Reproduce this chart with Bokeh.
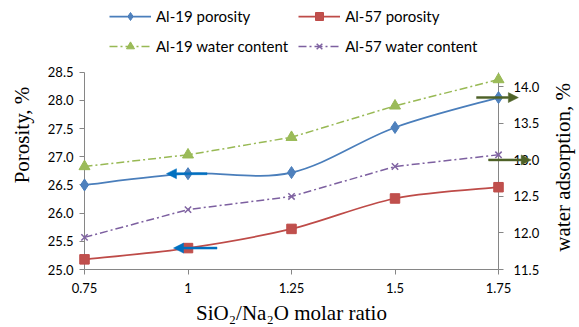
from bokeh.plotting import figure
from bokeh.models import (Range1d, LinearAxis, FixedTicker, NumeralTickFormatter,
                          Legend, LegendItem)
from bokeh.core.properties import value
from bokeh.embed import file_html
from bokeh.resources import INLINE
import math

# ---- data ----
ratio = [0.75, 1.0, 1.25, 1.5, 1.75]
ratio_labels = ["0.75", "1", "1.25", "1.5", "1.75"]
al19_porosity = [26.50, 26.70, 26.72, 27.52, 28.05]
al57_porosity = [25.18, 25.38, 25.72, 26.26, 26.46]
al19_water = [12.91, 13.07, 13.31, 13.74, 14.10]
al57_water = [11.94, 12.32, 12.50, 12.91, 13.07]
left_ticks = [25.0, 25.5, 26.0, 26.5, 27.0, 27.5, 28.0, 28.5]
right_ticks = [11.5, 12.0, 12.5, 13.0, 13.5, 14.0]

# annotation arrows
arrow_x_start = [1.046, 1.070, 1.697, 1.726]
arrow_x_end = [0.948, 0.965, 1.798, 1.829]
arrow_y = [26.70, 25.38, 28.05, 13.00]
arrow_axis = ["default", "default", "default", "right"]
arrow_color = ["#0070c0", "#0070c0", "#4f6228", "#4f6228"]

LABEL_FONT = "Liberation Serif"
TICK_FONT = "Lato"

# axis extents; the frame reaches up to the top of the page so the legend is not clipped
LEFT_LO, LEFT_HI = 25.0, 28.5
RIGHT_LO, RIGHT_HI = 11.5, 14.2
X_LO, X_HI = 0.75, 1.75
PLOT_PX, TOP_PX, WIDTH_PX = 198.0, 72.0, 414.0
left_top = LEFT_HI + TOP_PX * (LEFT_HI - LEFT_LO) / PLOT_PX
right_top = RIGHT_HI + TOP_PX * (RIGHT_HI - RIGHT_LO) / PLOT_PX

p = figure(width=579, height=327, output_backend="svg", toolbar_location=None,
           x_range=Range1d(X_LO, X_HI), y_range=Range1d(LEFT_LO, left_top),
           min_border_left=84, min_border_right=81, min_border_top=0,
           min_border_bottom=57, x_axis_location=None, y_axis_location=None)
p.extra_y_ranges = {"right": Range1d(RIGHT_LO, right_top)}
p.grid.visible = False
p.outline_line_color = None
p.background_fill_color = "white"
p.border_fill_color = "white"


def style_axis(ax):
    ax.axis_line_color = "#868686"
    ax.axis_line_width = 1
    ax.major_tick_line_color = "#868686"
    ax.major_tick_out = 5
    ax.major_tick_in = 0
    ax.minor_tick_line_color = None
    ax.major_label_text_font = TICK_FONT
    ax.major_label_text_font_size = "13px"
    ax.major_label_text_color = "black"
    ax.axis_label_text_font = LABEL_FONT
    ax.axis_label_text_font_size = "21px"
    ax.axis_label_text_font_style = "normal"
    ax.axis_label_text_color = "black"


xaxis = LinearAxis(axis_label="SiO\u2082/Na\u2082O molar ratio",
                   ticker=FixedTicker(ticks=ratio))
xaxis.major_label_overrides = {t: l for t, l in zip(ratio, ratio_labels)}
style_axis(xaxis)
xaxis.major_label_standoff = 8
xaxis.axis_label_standoff = 5
p.add_layout(xaxis, "below")

laxis = LinearAxis(axis_label="Porosity, %", ticker=FixedTicker(ticks=left_ticks),
                   formatter=NumeralTickFormatter(format="0.0"),
                   bounds=(LEFT_LO, LEFT_HI))
style_axis(laxis)
laxis.major_label_standoff = 6
laxis.axis_label_standoff = 11
p.add_layout(laxis, "left")

raxis = LinearAxis(y_range_name="right",
                   ticker=FixedTicker(ticks=right_ticks),
                   formatter=NumeralTickFormatter(format="0.0"),
                   bounds=(RIGHT_LO, RIGHT_HI))
style_axis(raxis)
raxis.major_label_standoff = 10
p.add_layout(raxis, "right")

# right-axis title, reading bottom to top like the reference
p.text(x=[1.907], y=[12.898], text=["water adsorption, %"], angle=math.pi / 2,
       text_align="center", text_baseline="middle", text_font=value(LABEL_FONT),
       text_font_size="21px", text_color="black", y_range_name="right", level="overlay")


def smooth_bezier(xs, ys, color, width, y_range_name="default"):
    n = len(xs)
    x0, y0, x1, y1, cx0, cy0, cx1, cy1 = [], [], [], [], [], [], [], []
    for i in range(n - 1):
        xp, yp = (xs[i - 1], ys[i - 1]) if i > 0 else (xs[i], ys[i])
        xn, yn = (xs[i + 2], ys[i + 2]) if i + 2 < n else (xs[i + 1], ys[i + 1])
        x0.append(xs[i]); y0.append(ys[i])
        x1.append(xs[i + 1]); y1.append(ys[i + 1])
        cx0.append(xs[i] + (xs[i + 1] - xp) / 6.0)
        cy0.append(ys[i] + (ys[i + 1] - yp) / 6.0)
        cx1.append(xs[i + 1] - (xn - xs[i]) / 6.0)
        cy1.append(ys[i + 1] - (yn - ys[i]) / 6.0)
    return p.bezier(x0=x0, y0=y0, x1=x1, y1=y1, cx0=cx0, cy0=cy0, cx1=cx1, cy1=cy1,
                    line_color=color, line_width=width, y_range_name=y_range_name)


# lines
l19 = smooth_bezier(ratio, al19_porosity, "#4a7ebb", 1.75)
l57 = smooth_bezier(ratio, al57_porosity, "#be4b48", 1.75)
w19 = p.line(ratio, al19_water, line_color="#98b954", line_width=1.5,
             line_dash="8 3 2 3", y_range_name="right")
w57 = p.line(ratio, al57_water, line_color="#7d60a0", line_width=1.5,
             line_dash="8 3 2 3", y_range_name="right")

# markers
m19 = p.scatter(ratio, al19_porosity, marker="diamond", size=12,
                fill_color="#4f81bd", line_color="#4a7ebb", level="overlay")
m57 = p.scatter(ratio, al57_porosity, marker="square", size=9.5,
                fill_color="#c0504d", line_color="#be4b48", level="overlay")
mw19 = p.scatter(ratio, al19_water, marker="triangle", size=11,
                 fill_color="#9bbb59", line_color="#98b954", y_range_name="right",
                 level="overlay")
mw57 = p.scatter(ratio, al57_water, marker="x", size=9, line_width=1.5,
                 line_color="#8064a2", y_range_name="right", level="overlay")

# arrows drawn as one polygon each (shaft + head), sized in pixels
SHAFT_HALF, HEAD_HALF, HEAD_LEN = 1.0, 5.0, 10.0
px_x = (X_HI - X_LO) / WIDTH_PX
px_y = {"default": (LEFT_HI - LEFT_LO) / PLOT_PX, "right": (RIGHT_HI - RIGHT_LO) / PLOT_PX}
for xs_, xe_, y_, ax_, c_ in zip(arrow_x_start, arrow_x_end, arrow_y, arrow_axis, arrow_color):
    d = 1.0 if xe_ > xs_ else -1.0
    hb = xe_ - d * HEAD_LEN * px_x
    t = SHAFT_HALF * px_y[ax_]
    h = HEAD_HALF * px_y[ax_]
    p.patch(x=[xs_, hb, hb, xe_, hb, hb, xs_],
            y=[y_ + t, y_ + t, y_ + h, y_, y_ - h, y_ - t, y_ - t],
            fill_color=c_, line_color=c_, line_width=0.5,
            y_range_name=ax_, level="overlay")

legend = Legend(items=[
    LegendItem(label="Al-19 porosity", renderers=[l19, m19]),
    LegendItem(label="Al-57 porosity", renderers=[l57, m57]),
    LegendItem(label="Al-19 water content", renderers=[w19, mw19]),
    LegendItem(label="Al-57 water content", renderers=[w57, mw57]),
], orientation="horizontal", ncols=2, location=(25, 213))
legend.border_line_color = None
legend.background_fill_alpha = 0
legend.padding = 0
legend.margin = 0
legend.spacing = 10
legend.glyph_width = 42
legend.glyph_height = 20
legend.label_height = 20
legend.label_width = 131
legend.label_standoff = 5
legend.label_text_font = TICK_FONT
legend.label_text_font_size = "15px"
legend.label_text_color = "black"
p.add_layout(legend, "center")

open("out.html", "w").write(file_html(p, INLINE))
